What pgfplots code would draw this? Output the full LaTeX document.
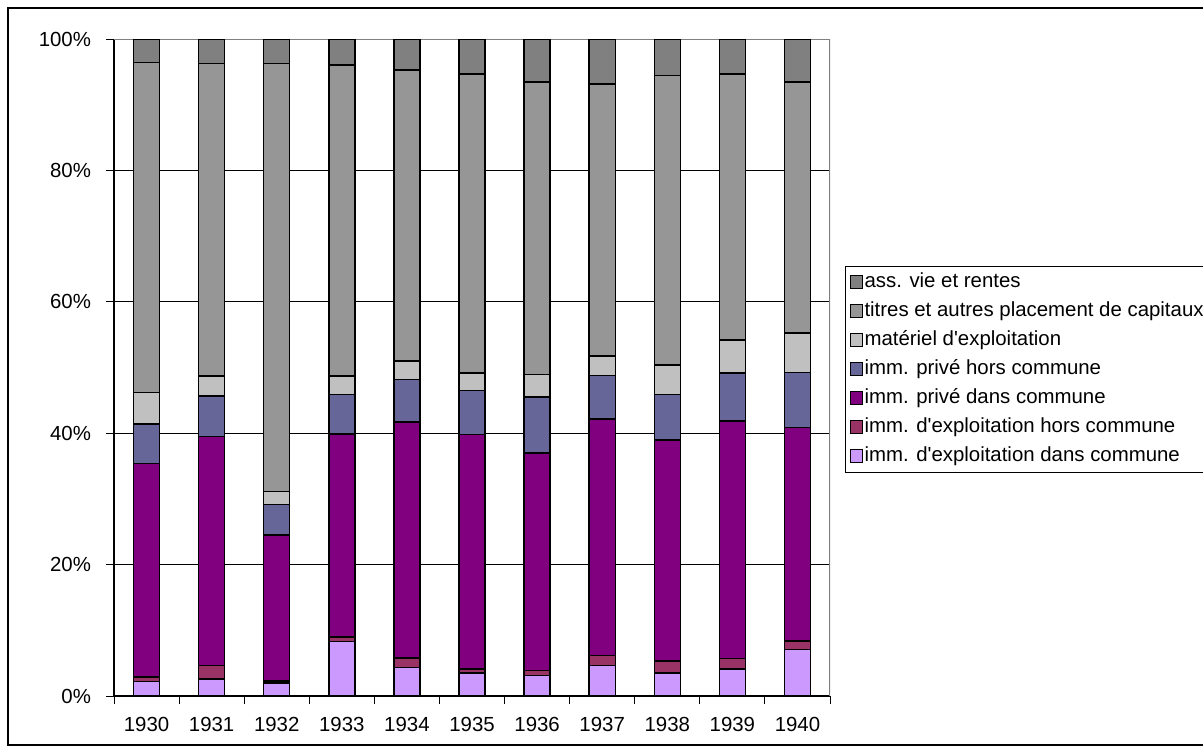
\documentclass[border=0pt]{standalone}
\usepackage{fontspec}
\setmainfont{Liberation Sans}
\usepackage{pgfplots}
\usepackage{pgfplotstable}
\pgfplotsset{compat=1.18}
\definecolor{cDG}{HTML}{808080}
\definecolor{cGR}{HTML}{969696}
\definecolor{cLG}{HTML}{C0C0C0}
\definecolor{cBL}{HTML}{666699}
\definecolor{cPU}{HTML}{800080}
\definecolor{cDR}{HTML}{993366}
\definecolor{cLP}{HTML}{CC99FF}
\pgfplotstableread{
x lp dr pu bl lg gr dg
0 2.2 0.7 32.5 6.0 4.8 50.3 3.5
1 2.6 2.0 34.9 6.2 3.0 47.6 3.7
2 2.0 0.3 22.2 4.7 1.9 65.2 3.7
3 8.3 0.7 30.9 6.0 2.8 47.4 3.9
4 4.3 1.5 35.9 6.5 2.8 44.3 4.7
5 3.5 0.6 35.7 6.7 2.7 45.5 5.3
6 3.1 0.8 33.1 8.5 3.5 44.5 6.5
7 4.6 1.6 36.0 6.6 3.0 41.4 6.8
8 3.5 1.8 33.7 6.9 4.5 44.1 5.5
9 4.1 1.6 36.2 7.3 5.0 40.5 5.3
10 7.1 1.3 32.5 8.4 6.0 38.2 6.5
}\data
\begin{document}
\begin{tikzpicture}
\useasboundingbox (0,0) rectangle (601.5pt,374.5pt);
\clip (0,0) rectangle (601.5pt,374.5pt);
\fill[white] (0,0) rectangle (601.5pt,374.5pt);
\draw[black, line width=0.6pt] (4pt,2pt) rectangle (640pt,370.5pt);
\begin{axis}[
  at={(57pt,26.5pt)}, anchor=south west,
  scale only axis, width=358pt, height=328.35pt,
  ybar stacked, bar width=0.4,
  xmin=-0.5, xmax=10.5, ymin=0, ymax=100,
  axis x line*=bottom, axis y line*=left,
  axis line style={black, line width=0.6pt},
  xtick={0,...,10},
  xticklabels={1930,1931,1932,1933,1934,1935,1936,1937,1938,1939,1940},
  minor xtick={-0.5,0.5,...,10.5},
  every major x tick/.append style={draw=none},
  ytick={0,20,...,100},
  yticklabel={\pgfmathprintnumber{\tick}\%},
  /pgf/number format/assume math mode=true,
  ymajorgrids, grid style={black, line width=0.5pt},
  tick align=outside, major tick length=4pt, minor tick length=4pt,
  tick style={black, line width=0.5pt},
  tick label style={font=\fontsize{10.2}{12}\selectfont},
  yticklabel style={xshift=-4pt},
  xticklabel style={yshift=-3pt},
  every axis plot/.append style={draw=black, line width=0.7pt},
  reverse legend,
  legend cell align=left,
  legend image code/.code={\draw[#1,draw=black,line width=0.5pt] (0pt,-3pt) rectangle (6pt,3.5pt);},
  legend style={at={(1.021,0.655)}, anchor=north west, draw=black, line width=0.5pt,
    font=\fontsize{10.2}{12}\selectfont,
    nodes={inner sep=1pt, text depth=0.25em, text height=0.75em},
    row sep=2.5pt, inner sep=2pt},
]
\addplot[fill=cLP] table[x=x,y=lp]{\data};
\addlegendentry{imm. d\textquotesingle exploitation dans commune}
\addplot[fill=cDR] table[x=x,y=dr]{\data};
\addlegendentry{imm. d\textquotesingle exploitation hors commune}
\addplot[fill=cPU] table[x=x,y=pu]{\data};
\addlegendentry{imm. privé dans commune}
\addplot[fill=cBL] table[x=x,y=bl]{\data};
\addlegendentry{imm. privé hors commune}
\addplot[fill=cLG] table[x=x,y=lg]{\data};
\addlegendentry{matériel d\textquotesingle exploitation}
\addplot[fill=cGR] table[x=x,y=gr]{\data};
\addlegendentry{titres et autres placement de capitaux}
\addplot[fill=cDG] table[x=x,y=dg]{\data};
\addlegendentry{ass. vie et rentes}
\draw[cDG, line width=0.6pt] (rel axis cs:0,1) -- (rel axis cs:1,1) -- (rel axis cs:1,0);
\end{axis}
\end{tikzpicture}
\end{document}
